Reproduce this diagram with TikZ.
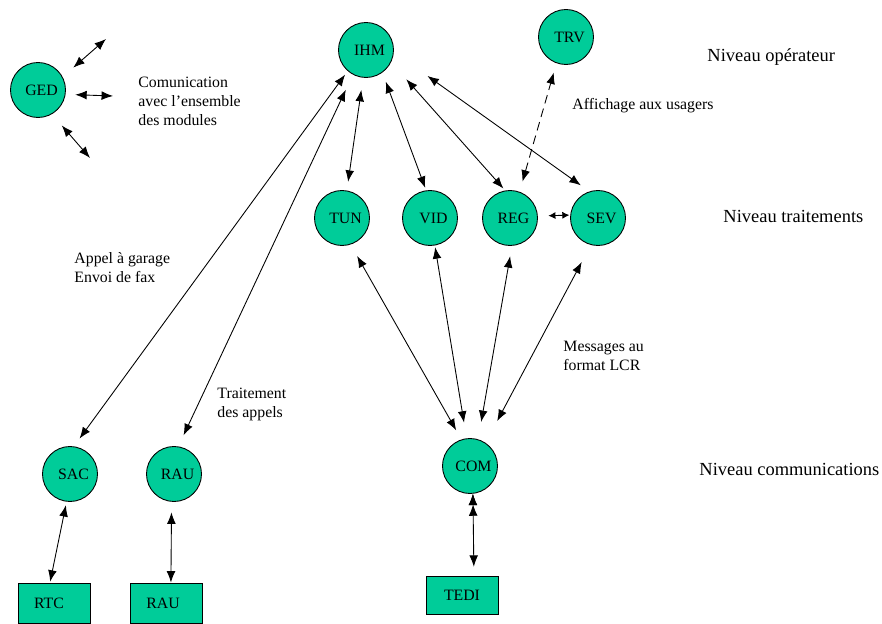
\documentclass[tikz,border=0pt]{standalone}
\usepackage{fontspec}
\setmainfont{Liberation Serif}
\usepackage{xcolor}
\definecolor{vertmod}{RGB}{0,204,153}
\usepackage{tikz}
\usetikzlibrary{arrows.meta}
\tikzset{
    module/.style={
    circle,draw=black,fill=vertmod,minimum size=1.1cm,inner sep=0pt,font=\fontsize{9}{10.8}\selectfont,
    execute at begin node=\hspace*{0.14cm}
    },
    periph/.style={
    rectangle,draw=black,fill=vertmod,minimum width=1.44cm,minimum height=0.8cm,inner sep=0pt,font=\fontsize{9}{10.8}\selectfont
    },
    note/.style={align=left,anchor=west,inner sep=0pt,font=\fontsize{9}{10.8}\selectfont},
    niveau/.style={anchor=west,inner sep=0pt,font=\fontsize{10.5}{12.6}\selectfont},
  lien/.style={draw, line width=0.5pt, <->, >={Latex[length=6.5pt,width=5pt]}},
  court/.style={{Latex[length=4pt,width=4pt]}-{Latex[length=4pt,width=4pt]}},
}
\begin{document}
\begin{tikzpicture}[x=0.02cm, y=-0.02cm, line width=0.5pt]
   \useasboundingbox (0,0) rectangle (882,624);

   % niveau operateur
   \node[module] (GED) at ( 38, 90) {GED};
   \node[module] (IHM) at (366, 50) {IHM};
   \node[module] (TRV) at (566, 37) {TRV};

   % niveau traitements
   \node[module] (TUN) at (342,218) {TUN};
   \node[module] (VID) at (430,218) {VID};
   \node[module] (REG) at (510,218) {REG};
   \node[module] (SEV) at (598,218) {SEV};

   % niveau communications
   \node[module] (SAC) at ( 70,474) {SAC};
   \node[module] (RAU) at (174,474) {RAU};
   \node[module] (COM) at (470,466) {COM};

   \node[periph] (RTC)  at ( 54,603) {\hspace*{-0.2cm}RTC};
   \node[periph] (RAUp) at (166,603) {\hspace*{-0.12cm}RAU};
   \node[periph,minimum height=0.76cm] (TEDI) at (462,595) {TEDI};

   \coordinate (g1) at (106, 39);
   \coordinate (g2) at (113, 96);
   \coordinate (g3) at ( 90,158);

   \node[note] (comm)  at (138,101) {Comunication\\avec l'ensemble\\des modules};
   \node[note] (appel) at ( 74,268) {Appel à garage\\Envoi de fax};
   \node[note] (trait) at (217,404) {Traitement\\des appels};
   \node[note] (mess)  at (563,356) {Messages au\\format LCR};
   \node[note] (affi)  at (572,106) {Affichage aux usagers};

   \node[niveau] (nop)  at (707, 57) {Niveau opérateur};
   \node[niveau] (ntr)  at (723,216) {Niveau traitements};
   \node[niveau] (ncom) at (699,469) {Niveau communications};

  \path[lien]
    (GED.28)  edge[shorten <=8pt] (g1)
    (GED.-9)  edge[shorten <=5.5pt] (g2)
    (GED.300) edge[shorten <=8.5pt] (g3)
    (IHM.229) edge[shorten <=2.5pt, shorten >=5.5pt] (SAC.82)
    (IHM.242) edge[shorten <=9.5pt, shorten >=7pt] (RAU.81)
    (IHM.264) edge[shorten <=7pt, shorten >=5pt] (TUN.80)
    (IHM.306) edge[shorten <=5.5pt, shorten >=1.5pt] (VID.98)
    (IHM.334) edge[shorten <=13pt, shorten >=1.5pt] (REG.100)
    (IHM.356) edge[shorten <=23.5pt, shorten >=6pt] (SEV.108)
    (REG.70)  edge[dash pattern=on 5pt off 3pt, shorten <=6pt, shorten >=5.5pt] (TRV.250)
    (REG.4)   edge[court, shorten <=6pt, shorten >=0.5pt] (SEV.174)
    (TUN.288) edge[shorten <=7.5pt, shorten >=6pt] (COM.108)
    (VID.280) edge[shorten <=1pt, shorten >=9pt] (COM.97)
    (REG.274) edge[shorten <=6pt, shorten >=10pt] (COM.73)
    (SEV.255) edge[shorten <=11pt, shorten >=14pt] (COM.56)
    (SAC.263) edge[shorten <=2pt, shorten >=0.5pt] ([xshift=-2.3pt]RTC.north)
    (RAU.265) edge[shorten <=6pt] ([xshift=2.8pt]RAUp.north)
    (COM.276) edge[shorten <=6pt, shorten >=5pt] ([xshift=6.8pt]TEDI.north);
\end{tikzpicture}
\end{document}
